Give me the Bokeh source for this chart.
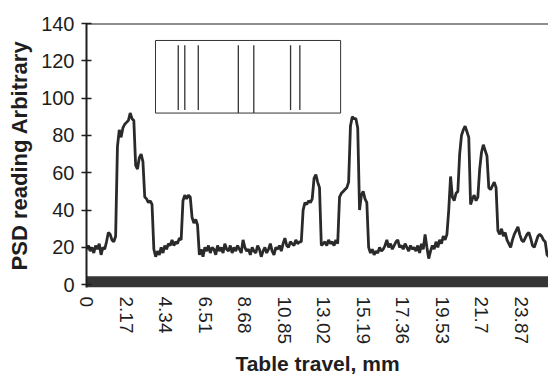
from bokeh.plotting import figure
from bokeh.models import FixedTicker, Span, BoxAnnotation, Range1d, ColumnDataSource
from bokeh.embed import file_html
from bokeh.resources import INLINE

# ---- data (PSD reading vs table travel, sampled every 0.1 mm) ----
x_step = 0.1
psd = [
    19, 21, 18, 20, 17, 21, 19, 22, 16, 20,   # 0.0 - 0.9
    19, 23, 28, 27, 24, 23, 26, 74, 83, 79,   # 1.0 - 1.9
    84, 86, 87, 88, 92, 89, 88, 64, 62, 68,   # 2.0 - 2.9
    70, 66, 47, 46, 44, 45, 43, 19, 15, 18,   # 3.0 - 3.9
    16, 20, 17, 21, 19, 22, 21, 24, 21, 23,   # 4.0 - 4.9
    22, 25, 24, 45, 48, 46, 48, 47, 36, 33,   # 5.0 - 5.9
    35, 32, 16, 19, 15, 20, 18, 21, 17, 20,   # 6.0 - 6.9
    19, 16, 21, 18, 20, 17, 22, 19, 18, 21,   # 7.0 - 7.9
    17, 20, 18, 21, 19, 17, 24, 20, 18, 19,   # 8.0 - 8.9
    16, 20, 18, 17, 21, 19, 15, 18, 20, 17,   # 9.0 - 9.9
    19, 22, 18, 16, 20, 19, 21, 18, 22, 25,   # 10.0 - 10.9
    21, 20, 23, 22, 21, 24, 22, 23, 23, 40,   # 11.0 - 11.9
    44, 43, 45, 44, 46, 57, 59, 55, 52, 21,   # 12.0 - 12.9
    22, 23, 21, 24, 22, 23, 21, 24, 22, 47,   # 13.0 - 13.9
    49, 50, 51, 52, 55, 85, 90, 89, 89, 84,   # 14.0 - 14.9
    40, 48, 50, 46, 44, 20, 17, 19, 16, 18,   # 15.0 - 15.9
    17, 20, 18, 19, 21, 24, 20, 22, 19, 21,   # 16.0 - 16.9
    23, 24, 20, 21, 19, 22, 20, 18, 21, 19,   # 17.0 - 17.9
    20, 18, 21, 17, 22, 19, 27, 20, 14, 18,   # 18.0 - 18.9
    21, 19, 23, 20, 24, 22, 26, 24, 27, 40,   # 19.0 - 19.9
    58, 47, 45, 49, 50, 70, 80, 83, 85, 82,   # 20.0 - 20.9
    79, 43, 46, 48, 45, 47, 62, 71, 75, 72,   # 21.0 - 21.9
    69, 52, 51, 53, 55, 52, 29, 27, 30, 26,   # 22.0 - 22.9
    28, 24, 22, 20, 24, 27, 29, 31, 27, 24,   # 23.0 - 23.9
    23, 25, 27, 28, 25, 21, 20, 23, 26, 27,   # 24.0 - 24.9
    26, 24, 23, 16, 15,                       # 25.0 - 25.4
]
travel = [round(i * x_step, 2) for i in range(len(psd))]

x_ticks = [0, 2.17, 4.34, 6.51, 8.68, 10.85, 13.02, 15.19, 17.36, 19.53, 21.7, 23.87]
x_tick_labels = ["0", "2.17", "4.34", "6.51", "8.68", "10.85", "13.02",
                 "15.19", "17.36", "19.53", "21.7", "23.87"]
y_ticks = [0, 20, 40, 60, 80, 100, 120, 140]

# inset (grating picture) drawn in data units
inset_box = dict(left=3.79, right=13.96, bottom=92.0, top=130.9)
inset_lines_x = [5.04, 5.40, 6.14, 8.34, 9.19, 11.21, 11.72]
inset_lines_top = [128.3, 128.3, 128.3, 128.3, 128.3, 128.3, 128.3]
inset_lines_bottom = [93.6, 93.6, 93.6, 92.0, 92.0, 93.6, 93.6]

INK = "#1e1e1e"
FONT = "Liberation Sans"

p = figure(width=548, height=378,
           x_range=Range1d(0, 25.38), y_range=Range1d(-1.5, 140),
           output_backend="svg", toolbar_location=None,
           min_border_left=86, min_border_top=23,
           min_border_right=0, min_border_bottom=88)
p.grid.visible = False
p.outline_line_color = None
p.background_fill_color = "white"
p.border_fill_color = "white"

# dark band along the bottom of the plot area
p.add_layout(BoxAnnotation(top=4.5, fill_color="#353535", fill_alpha=1.0,
                           line_color=None, level="underlay"))
# top border line
p.add_layout(Span(location=140, dimension="width", line_color=INK, line_width=2))

# inset box and lines
p.quad(left=[inset_box["left"]], right=[inset_box["right"]],
       bottom=[inset_box["bottom"]], top=[inset_box["top"]],
       fill_color=None, line_color="#333333", line_width=1)
p.segment(x0=inset_lines_x, y0=inset_lines_bottom, x1=inset_lines_x, y1=inset_lines_top,
          line_color="#333333", line_width=1.3)

# the PSD trace
src = ColumnDataSource(dict(x=travel, y=psd))
p.line("x", "y", source=src, line_color="#2a2a2a", line_width=2.8)

# y axis
yax = p.yaxis[0]
yax.ticker = FixedTicker(ticks=y_ticks)
yax.axis_label = "PSD reading Arbitrary"
yax.axis_label_text_font = FONT
yax.axis_label_text_font_style = "bold"
yax.axis_label_text_font_size = "22px"
yax.axis_label_text_color = INK
yax.axis_label_standoff = 6
yax.major_label_text_font = FONT
yax.major_label_text_font_size = "20px"
yax.major_label_text_color = INK
yax.major_label_standoff = 7
yax.axis_line_color = INK
yax.axis_line_width = 2
yax.major_tick_line_color = INK
yax.major_tick_line_width = 1.5
yax.major_tick_in = 5
yax.major_tick_out = 5
yax.minor_tick_line_color = None

# x axis
xax = p.xaxis[0]
xax.ticker = FixedTicker(ticks=x_ticks)
xax.major_label_overrides = {t: s for t, s in zip(x_ticks, x_tick_labels)}
xax.major_label_orientation = "vertical"
xax.axis_label = "Table travel, mm"
xax.axis_label_text_font = FONT
xax.axis_label_text_font_style = "bold"
xax.axis_label_text_font_size = "21px"
xax.axis_label_text_color = INK
xax.axis_label_standoff = 5
xax.major_label_text_font = FONT
xax.major_label_text_font_size = "19px"
xax.major_label_text_color = INK
xax.major_label_standoff = 9
xax.axis_line_color = None
xax.major_tick_line_color = None
xax.minor_tick_line_color = None
xax.major_tick_out = 0
xax.major_tick_in = 0

open("out.html", "w").write(file_html(p, INLINE))
